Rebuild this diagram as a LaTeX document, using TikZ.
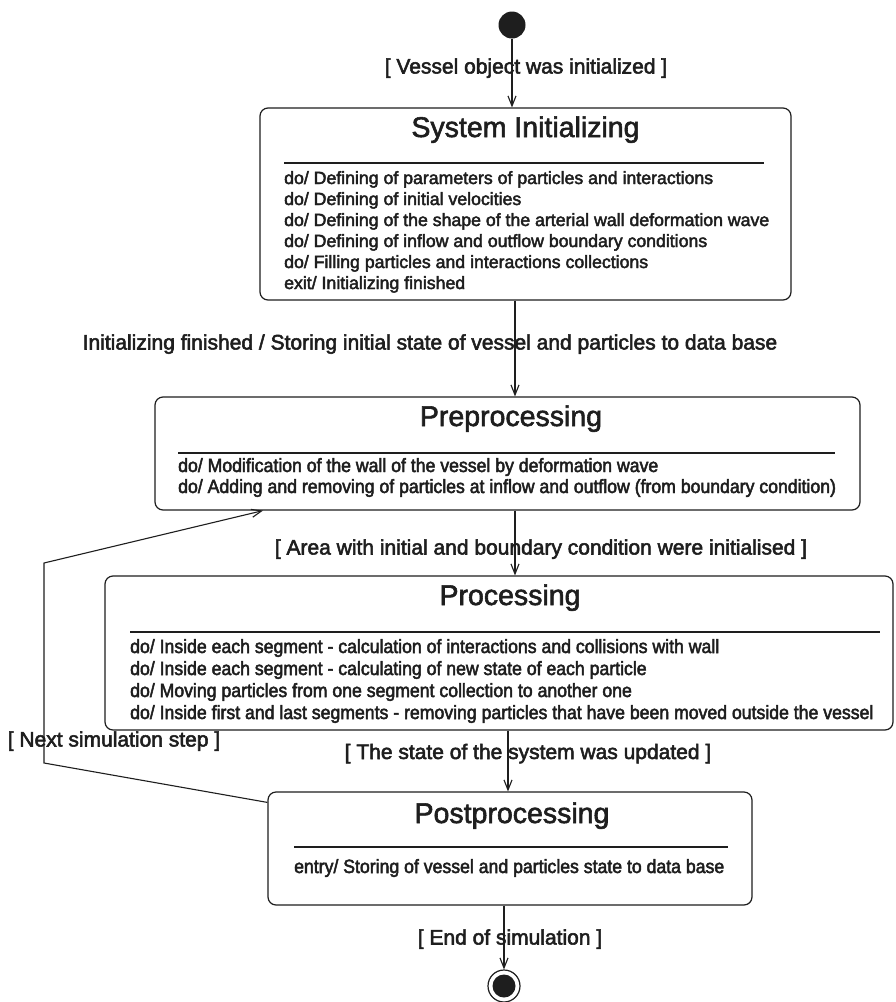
\documentclass[tikz,border=0pt]{standalone}
\usepackage{fontspec}
\setmainfont{Liberation Sans}
\newfontfamily\titlefont[FakeBold=2]{Liberation Sans}
\newfontfamily\bodyfont[FakeBold=2.5]{Liberation Sans}
\newfontfamily\condfont[FakeBold=2.5,FakeStretch=0.92]{Liberation Sans}
\usetikzlibrary{arrows.meta}
\definecolor{ink}{HTML}{1E1E1E}
\begin{document}
\begin{tikzpicture}[x=1pt,y=-1pt]
\tikzset{
 statebox/.style={draw=ink, line width=1.2pt, rounded corners=8pt, inner sep=0pt},
 titletxt/.style={font=\titlefont\fontsize{28.5}{31}\selectfont, text=ink, inner sep=0pt, anchor=base},
 bodytxt/.style={font=\bodyfont\fontsize{17.7}{21}\selectfont, text=ink, inner sep=0pt, anchor=base west},
 condtxt/.style={font=\condfont\fontsize{19.2}{22}\selectfont, text=ink, inner sep=0pt, anchor=base west},
 guard/.style={font=\bodyfont\fontsize{21}{24}\selectfont, text=ink, inner sep=0pt, anchor=base},
 sepline/.style={draw=ink, line width=1.2pt},
 trans/.style={draw=ink, line width=1.1pt, -{Straight Barb[length=10pt,width=8pt]}},
}
\useasboundingbox[fill=white] (0,0) rectangle (895,1002);

% states
\node[circle, fill=ink, minimum size=27pt, inner sep=0pt] (init) at (512,25) {};
\node[statebox, minimum width=531pt, minimum height=192pt] (sys) at (525.5,204) {};
\node[statebox, minimum width=705pt, minimum height=113pt] (pre) at (507.5,453.5) {};
\node[statebox, minimum width=788pt, minimum height=154pt] (proc) at (499,653) {};
\node[statebox, minimum width=484pt, minimum height=113pt] (post) at (510,848.5) {};
\node[circle, draw=ink, line width=1.2pt, minimum size=32pt, inner sep=0pt] (final) at (504,986) {};
\node[circle, fill=ink, minimum size=23pt, inner sep=0pt] (finaldot) at (final) {};

% System Initializing
\node[titletxt] (systitle) at (525.5,137) {System Initializing};
\draw[sepline] (284,163) -- (764,163);
\node[bodytxt] (sys1) at (284,184) {do/ Defining of parameters of particles and interactions};
\node[bodytxt] (sys2) at (284,205) {do/ Defining of initial velocities};
\node[bodytxt] (sys3) at (284,226) {do/ Defining of the shape of the arterial wall deformation wave};
\node[bodytxt] (sys4) at (284,247) {do/ Defining of inflow and outflow boundary conditions};
\node[bodytxt] (sys5) at (284,268) {do/ Filling particles and interactions collections};
\node[bodytxt] (sys6) at (284,289) {exit/ Initializing finished};

% Preprocessing
\node[titletxt] (pretitle) at (511,426) {Preprocessing};
\draw[sepline] (178,453) -- (835,453);
\node[condtxt] (pre1) at (178,472) {do/ Modification of the wall of the vessel by deformation wave};
\node[condtxt] (pre2) at (178,493) {do/ Adding and removing of particles at inflow and outflow (from boundary condition)};

% Processing
\node[titletxt] (proctitle) at (510,605) {Processing};
\draw[sepline] (130,632) -- (880,632);
\node[condtxt] (proc1) at (130,653) {do/ Inside each segment - calculation of interactions and collisions with wall};
\node[condtxt] (proc2) at (130,675) {do/ Inside each segment - calculating of new state of each particle};
\node[condtxt] (proc3) at (130,697) {do/ Moving particles from one segment collection to another one};
\node[condtxt] (proc4) at (130,719) {do/ Inside first and last segments - removing particles that have been moved outside the vessel};

% Postprocessing
\node[titletxt] (posttitle) at (512,823) {Postprocessing};
\draw[sepline] (294,847) -- (728,847);
\node[condtxt] (post1) at (294,873) {entry/ Storing of vessel and particles state to data base};

% transitions
\coordinate (xa) at (515,0);
\coordinate (xb) at (508,0);
\draw[trans] (init) -- (init |- sys.north);
\draw[trans] (sys.south -| xa) -- (pre.north -| xa);
\draw[trans] (pre.south -| xa) -- (proc.north -| xa);
\draw[trans] (proc.south -| xb) -- (post.north -| xb);
\draw[trans] (post.south -| final) -- (final.north);
\coordinate (loopa) at (44,763);
\coordinate (loopb) at (44,563);
\coordinate (loopend) at (263,0);
\draw[trans] ([yshift=-11pt]post.north west) -- (loopa) -- (loopb) -- (pre.south -| loopend);

% guards
\node[guard] (g1) at (526,73.5) {[ Vessel object was initialized ]};
\node[guard] (g2) at (430,349.5) {Initializing finished / Storing initial state of vessel and particles to data base};
\node[guard] (g3) at (541,554.5) {[ Area with initial and boundary condition were initialised ]};
\node[guard] (g4) at (114,746.5) {[ Next simulation step ]};
\node[guard] (g5) at (528,759) {[ The state of the system was updated ]};
\node[guard] (g6) at (510,944.5) {[ End of simulation ]};
\end{tikzpicture}
\end{document}
